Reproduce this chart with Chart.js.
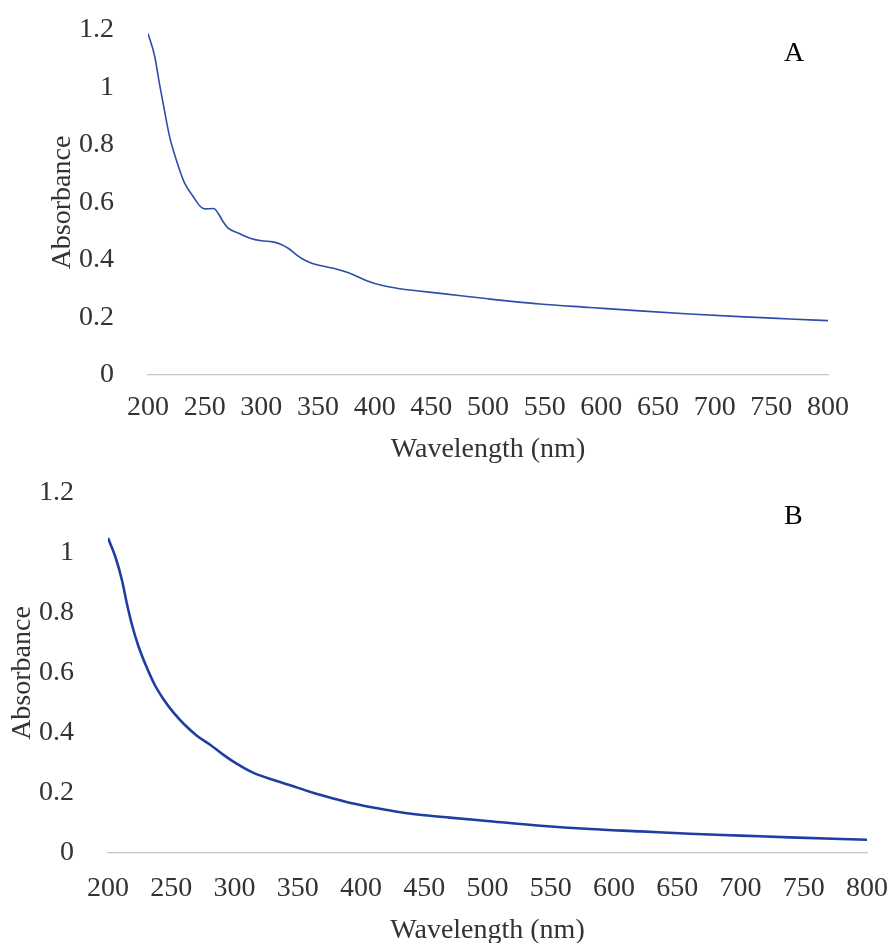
<!DOCTYPE html>
<html>
<head>
<meta charset="utf-8">
<title>Absorbance spectra</title>
<script src="https://cdn.jsdelivr.net/npm/chart.js@4.4.1/dist/chart.umd.min.js"></script>
<style>
  html, body { margin: 0; padding: 0; background: #fff; overflow: hidden; }
  body { width: 889px; height: 943px; position: relative; }
  canvas { position: absolute; left: 0; }
  #chartA { top: 0; }
  #chartB { top: 470px; }
  .panel {
    position: absolute;
    font-family: "Liberation Serif", "Times New Roman", serif;
    font-size: 28px;
    color: #000;
    line-height: 1;
  }
</style>
</head>
<body>
<canvas id="chartA" width="889" height="470"></canvas>
<canvas id="chartB" width="889" height="480"></canvas>
<div class="panel" style="left:784px; top:38px;">A</div>
<div class="panel" style="left:784px; top:501px;">B</div>
<script>
/* global Chart */

// Panel A
const wavelengthA = [200, 206, 210, 215, 219, 225, 232, 240, 246, 250, 258, 262, 266, 271, 280,
  290, 300, 310, 317, 324, 331, 338, 345, 355, 366, 377, 393, 407, 422, 437, 460, 500, 546, 590,
  634, 678, 722, 766, 800];
const absorbanceA = [1.188, 1.107, 1.015, 0.91, 0.83, 0.748, 0.67, 0.62, 0.587, 0.578, 0.579,
  0.562, 0.535, 0.51, 0.493, 0.476, 0.467, 0.463, 0.455, 0.44, 0.418, 0.4, 0.388, 0.378, 0.369,
  0.356, 0.328, 0.311, 0.3, 0.293, 0.283, 0.265, 0.247, 0.235, 0.223, 0.212, 0.203, 0.195, 0.189];

// Panel B
const wavelengthB = [200, 206, 211, 215, 219, 224, 230, 237, 244, 252, 260, 270, 281, 291, 302, 315,
  331, 347, 362, 378, 394, 413, 431, 450, 470, 502, 542, 581, 621, 660, 700, 739, 800];
const absorbanceB = [1.05, 0.985, 0.91, 0.83, 0.76, 0.69, 0.625, 0.56, 0.512, 0.467, 0.43, 0.392,
  0.36, 0.328, 0.297, 0.267, 0.243, 0.222, 0.201, 0.182, 0.165, 0.149, 0.136, 0.126, 0.118, 0.106,
  0.091, 0.08, 0.072, 0.064, 0.058, 0.052, 0.044];

const yTickLabels = ["0", "0.2", "0.4", "0.6", "0.8", "1", "1.2"];
const xTitle = "Wavelength (nm)";
const yTitle = "Absorbance";

(function() {
  "use strict";

  const FONT = "'Liberation Serif', 'Times New Roman', serif";
  const TEXT = "#333333";

  /**
   * Builds one spectrum chart.
   * @param {string} id canvas id
   * @param {Object} o layout and style for this panel
   * @return {Chart}
   */
  function makeChart(id, o) {
    const pts = o.xs.map((x, i) => ({x: x, y: o.ys[i]}));
    return new Chart(document.getElementById(id), {
      type: "line",
      data: {
        datasets: [{
          data: pts,
          borderColor: o.color,
          borderWidth: o.width,
          pointRadius: 0,
          fill: false,
          cubicInterpolationMode: "monotone",
        }],
      },
      options: {
        responsive: false,
        animation: false,
        devicePixelRatio: 1,
        layout: {padding: o.pad},
        plugins: {legend: {display: false}, tooltip: {enabled: false}},
        scales: {
          x: {
            type: "linear",
            min: 200,
            max: 800,
            grid: {display: false},
            border: {display: true, color: "#c6c6c6", width: 1.3},
            ticks: {stepSize: 50, padding: o.xTickPad, color: TEXT, font: {family: FONT, size: 28}},
            title: {display: true, text: xTitle, color: TEXT, padding: 0, font: {family: FONT, size: 28}},
            afterFit: (s) => {
              s.height = o.xHeight;
              s.paddingLeft = 0;
              s.paddingRight = 0;
            },
          },
          y: {
            min: 0,
            max: 1.2,
            grid: {display: false},
            border: {display: false},
            ticks: {
              stepSize: 0.2,
              padding: 26,
              color: TEXT,
              font: {family: FONT, size: 28},
              callback: (v) => yTickLabels[Math.round(v / 0.2)],
            },
            title: {
              display: true,
              text: yTitle,
              color: TEXT,
              padding: {top: o.yTitlePad, bottom: 0},
              font: {family: FONT, size: 28},
            },
            afterFit: (s) => {
              s.width = o.yWidth;
              s.paddingTop = 0;
              s.paddingBottom = 0;
            },
          },
        },
      },
    });
  }

  makeChart("chartA", {
    xs: wavelengthA, ys: absorbanceA, color: "#2d4dab", width: 1.6,
    pad: {top: 30, right: 61, bottom: 4, left: 0},
    xHeight: 91, xTickPad: 8, yWidth: 148, yTitlePad: 46,
  });

  makeChart("chartB", {
    xs: wavelengthB, ys: absorbanceB, color: "#1f3ea2", width: 2.6,
    pad: {top: 23, right: 22, bottom: 3, left: 0},
    xHeight: 94, xTickPad: 11, yWidth: 108, yTitlePad: 6,
  });
})();
</script>
</body>
</html>
